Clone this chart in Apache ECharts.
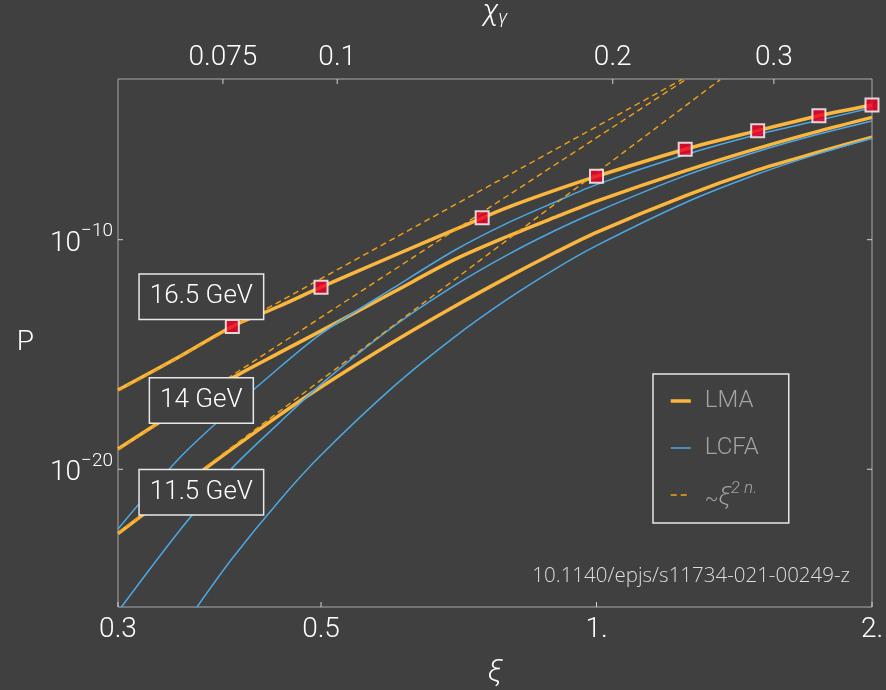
<!DOCTYPE html>
<html><head><meta charset="utf-8">
<script src="https://cdn.jsdelivr.net/npm/echarts@6/dist/echarts.min.js"></script>
<style>html,body{margin:0;padding:0;background:#404040;} #c{width:886px;height:690px;}</style>
</head><body><div id="c"></div>
<script>
// ---- data (probabilities given as log10 P) ----
const xiGrid  = [0.3, 0.35, 0.4, 0.45, 0.5, 0.6, 0.7, 0.8, 0.9, 1.0, 1.25, 1.5, 1.75, 2.0];
const lma165  = [-16.55, -15.1, -13.78, -12.9, -12.07, -10.7, -9.56, -8.59, -7.85, -7.24, -6.06, -5.25, -4.6, -4.13];
const lma140  = [-19.12, -17.41, -16.02, -14.93, -13.97, -12.28, -10.86, -9.85, -9.03, -8.32, -7.0, -6.02, -5.27, -4.67];
const lma115  = [-22.8, -20.8, -19.1, -17.65, -16.42, -14.45, -12.9, -11.63, -10.57, -9.68, -8.09, -6.96, -6.18, -5.53];
const lcfa165 = [-22.6, -19.52, -17.36, -15.58, -14.1, -12.1, -10.46, -9.27, -8.37, -7.6, -6.3, -5.42, -4.8, -4.25];
const lcfa140Xi = [0.3026, 0.35, 0.4, 0.45, 0.5, 0.6, 0.7, 0.8, 0.9, 1.0, 1.25, 1.5, 1.75, 2.0];
const lcfa140   = [-26.0, -22.69, -19.94, -17.98, -16.3, -13.78, -11.99, -10.65, -9.61, -8.78, -7.21, -6.16, -5.4, -4.83];
const lcfa115Xi = [0.366, 0.4, 0.45, 0.5, 0.6, 0.7, 0.8, 0.9, 1.0, 1.25, 1.5, 1.75, 2.0];
const lcfa115   = [-26.0, -23.88, -21.38, -19.38, -16.4, -14.23, -12.58, -11.29, -10.26, -8.39, -7.14, -6.25, -5.58];
// ~xi^(2n) asymptotes (straight lines on log-log), end points
const asym165Xi = [0.3, 1.24];  const asym165 = [-16.58, -3.02];
const asym140Xi = [0.3, 1.25];  const asym140 = [-19.15, -3.04];
const asym115Xi = [0.3, 1.365]; const asym115 = [-22.77, -3.03];
// markers on the 16.5 GeV LMA curve
const markerXi = [0.4, 0.5, 0.75, 1.0, 1.25, 1.5, 1.75, 2.0];
const marker165 = [-13.78, -12.07, -9.04, -7.24, -6.06, -5.25, -4.6, -4.13];
// axes
const xRange = [0.3, 2];
const chiRange = [0.0576, 0.384];
const yRange = [1e-26, 1e-3];
const xTicks = [0.3, 0.5, 1, 2];
const xTickLabels = ['0.3', '0.5', '1.', '2.'];
const chiTicks = [0.075, 0.1, 0.2, 0.3];
const chiTickLabels = ['0.075', '0.1', '0.2', '0.3'];
const yTicks = [1e-10, 1e-20];
const yTickExp = ['\u221210', '\u221220'];
const energyLabels = ['16.5 GeV', '14 GeV', '11.5 GeV'];
const energyAnchorXi = [0.37, 0.37, 0.37];
const energyAnchorP = [3.3e-13, 1.0e-17, 1.0e-21];

const FONT = 'Roboto, "Noto Sans", sans-serif';
const ORANGE = '#fbb63e', BLUE = '#4ba8e4', DASH = '#f3a214';
const pts = (xs, ls) => xs.map((x, i) => [x, Math.pow(10, ls[i])]);

const chart = echarts.init(document.getElementById('c'), null, {renderer: 'canvas'});

function lineSeries(name, xs, ls, style, z, smooth) {
  return {type: 'line', name, data: pts(xs, ls), symbol: 'none', showSymbol: false,
    smooth: smooth, lineStyle: style, itemStyle: {color: style.color}, z, silent: true};
}

const option = {
  backgroundColor: '#404040',
  animation: false,
  grid: {left: 118, right: 14, top: 79, bottom: 83, containLabel: false, outerBoundsMode: 'none',
    show: true, borderColor: '#a9a9a9', borderWidth: 1, backgroundColor: 'transparent'},
  legend: {
    orient: 'vertical', left: 653, top: 374,
    data: [
      {name: 'LMA', lineStyle: {width: 3.5, color: ORANGE}},
      {name: 'LCFA', lineStyle: {width: 1.5, color: BLUE}},
      {name: 'asym', lineStyle: {width: 1.6, color: DASH, type: [6, 4]}}
    ],
    itemWidth: 20, itemHeight: 14, itemGap: 17,
    padding: [12, 30, 13, 16],
    borderColor: '#e6e6e6', borderWidth: 1.5, backgroundColor: '#404040',
    selectedMode: false,
    itemStyle: {opacity: 0},
    formatter: n => n === 'asym' ? '{a|~}{b|\u03BE}{c|2 n.}' : n,
    textStyle: {color: '#a3a3a3', fontSize: 24, fontFamily: FONT, fontWeight: 300, lineHeight: 30, padding: [0, 0, 0, 9],
      rich: {
        a: {fontSize: 20, color: '#a3a3a3', fontFamily: FONT, lineHeight: 30, verticalAlign: 'bottom'},
        b: {fontSize: 26, color: '#a3a3a3', fontStyle: 'italic', fontFamily: FONT, fontWeight: 300, lineHeight: 30, verticalAlign: 'bottom'},
        c: {fontSize: 17, color: '#a3a3a3', fontStyle: 'italic', fontFamily: FONT, fontWeight: 300, lineHeight: 17, verticalAlign: 'top'}
      }}
  },
  xAxis: [
    {type: 'log', logBase: 10, min: xRange[0], max: xRange[1], position: 'bottom',
      axisLine: {show: false}, axisTick: {show: false}, axisLabel: {show: false}, splitLine: {show: false},
      name: '\u03BE', nameLocation: 'middle', nameGap: 50,
      nameTextStyle: {color: '#ffffff', fontSize: 30, fontStyle: 'italic', fontFamily: FONT, fontWeight: 300}},
    {type: 'log', logBase: 10, min: chiRange[0], max: chiRange[1], position: 'top',
      axisLine: {show: false}, axisTick: {show: false}, axisLabel: {show: false}, splitLine: {show: false},
      name: '\u03C7{s|\u03B3}', nameLocation: 'middle', nameGap: 51,
      nameTextStyle: {color: '#ffffff', fontSize: 30, fontStyle: 'italic', fontFamily: FONT, fontWeight: 300, lineHeight: 32,
        rich: {s: {fontSize: 19, fontStyle: 'italic', color: '#ffffff', fontFamily: FONT, fontWeight: 300, lineHeight: 19, verticalAlign: 'bottom'}}}}
  ],
  yAxis: [
    {type: 'log', logBase: 10, min: yRange[0], max: yRange[1],
      axisLine: {show: false}, axisTick: {show: false}, axisLabel: {show: false}, splitLine: {show: false},
      name: 'P', nameLocation: 'middle', nameGap: 84, nameRotate: 0,
      nameTextStyle: {color: '#ffffff', fontSize: 28, fontFamily: FONT, fontWeight: 300}}
  ],
  series: [
    lineSeries('LMA', xiGrid, lma165, {color: ORANGE, width: 3.5}, 2, 0.3),
    lineSeries('LMA', xiGrid, lma140, {color: ORANGE, width: 3.5}, 2, 0.3),
    lineSeries('LMA', xiGrid, lma115, {color: ORANGE, width: 3.5}, 2, 0.3),
    lineSeries('LCFA', xiGrid, lcfa165, {color: BLUE, width: 1.5}, 3, 0.3),
    lineSeries('LCFA', lcfa140Xi, lcfa140, {color: BLUE, width: 1.5}, 3, 0.3),
    lineSeries('LCFA', lcfa115Xi, lcfa115, {color: BLUE, width: 1.5}, 3, 0.3),
    lineSeries('asym', asym165Xi, asym165, {color: DASH, width: 1.4, type: [6, 4]}, 4, false),
    lineSeries('asym', asym140Xi, asym140, {color: DASH, width: 1.4, type: [6, 4]}, 4, false),
    lineSeries('asym', asym115Xi, asym115, {color: DASH, width: 1.4, type: [6, 4]}, 4, false),
    {type: 'scatter', name: 'points', data: pts(markerXi, marker165), symbol: 'rect', symbolSize: 13,
      clip: false, z: 6, silent: true,
      itemStyle: {color: '#ef0026', borderColor: '#ffffff', borderWidth: 2}}
  ]
};
chart.setOption(option);

// ---- ticks, tick labels and annotations positioned through the axes ----
const gx = v => chart.convertToPixel({xAxisIndex: 0}, v);
const gxt = v => chart.convertToPixel({xAxisIndex: 1}, v);
const gy = v => chart.convertToPixel({yAxisIndex: 0}, v);
const L = gx(xRange[0]), R = gx(xRange[1]), T = gy(yRange[1]), B = gy(yRange[0]);
const TICK = 5, TC = '#d0d0d0';
const g = [];
const tickFont = '300 28px ' + FONT;
xTicks.forEach((v, i) => {
  const x = gx(v);
  g.push({type: 'line', shape: {x1: x, y1: B, x2: x, y2: B - TICK}, style: {stroke: TC, lineWidth: 1}, silent: true});
  g.push({type: 'text', x: x, y: B + 23, style: {text: xTickLabels[i], font: tickFont, fill: '#ffffff', align: 'center', verticalAlign: 'middle'}, silent: true});
});
chiTicks.forEach((v, i) => {
  const x = gxt(v);
  g.push({type: 'line', shape: {x1: x, y1: T, x2: x, y2: T + TICK}, style: {stroke: TC, lineWidth: 1}, silent: true});
  g.push({type: 'text', x: x, y: T - 21, style: {text: chiTickLabels[i], font: tickFont, fill: '#ffffff', align: 'center', verticalAlign: 'middle'}, silent: true});
});
yTicks.forEach((v, i) => {
  const y = gy(v);
  g.push({type: 'line', shape: {x1: L, y1: y, x2: L + TICK, y2: y}, style: {stroke: TC, lineWidth: 1}, silent: true});
  g.push({type: 'line', shape: {x1: R, y1: y, x2: R - TICK, y2: y}, style: {stroke: TC, lineWidth: 1}, silent: true});
  g.push({type: 'text', x: L - 5, y: y, style: {
    text: '{b|10}{s|' + yTickExp[i] + '}', align: 'right', verticalAlign: 'middle',
    rich: {
      b: {fontSize: 28, fontFamily: FONT, fontWeight: 300, fill: '#ffffff', lineHeight: 36, verticalAlign: 'bottom'},
      s: {fontSize: 19, fontFamily: FONT, fontWeight: 300, fill: '#ffffff', lineHeight: 19, verticalAlign: 'top'}
    }}, silent: true});
});
energyLabels.forEach((t, i) => {
  g.push({type: 'text', x: gx(energyAnchorXi[i]), y: gy(energyAnchorP[i]), z: 50, silent: true,
    style: {text: t, font: '300 26px ' + FONT, fill: '#ffffff', align: 'center', verticalAlign: 'middle',
      lineHeight: 30, backgroundColor: '#404040', borderColor: '#e8e8e8', borderWidth: 1.5, padding: [7, 10]}});
});
g.push({type: 'text', x: R - 22, y: B - 31, z: 50, silent: true,
  style: {text: '10.1140/epjs/s11734-021-00249-z', font: '300 20.5px "Open Sans", ' + FONT, fill: '#dedede', align: 'right', verticalAlign: 'middle'}});
chart.setOption({graphic: {elements: g}});
</script>
</body></html>
